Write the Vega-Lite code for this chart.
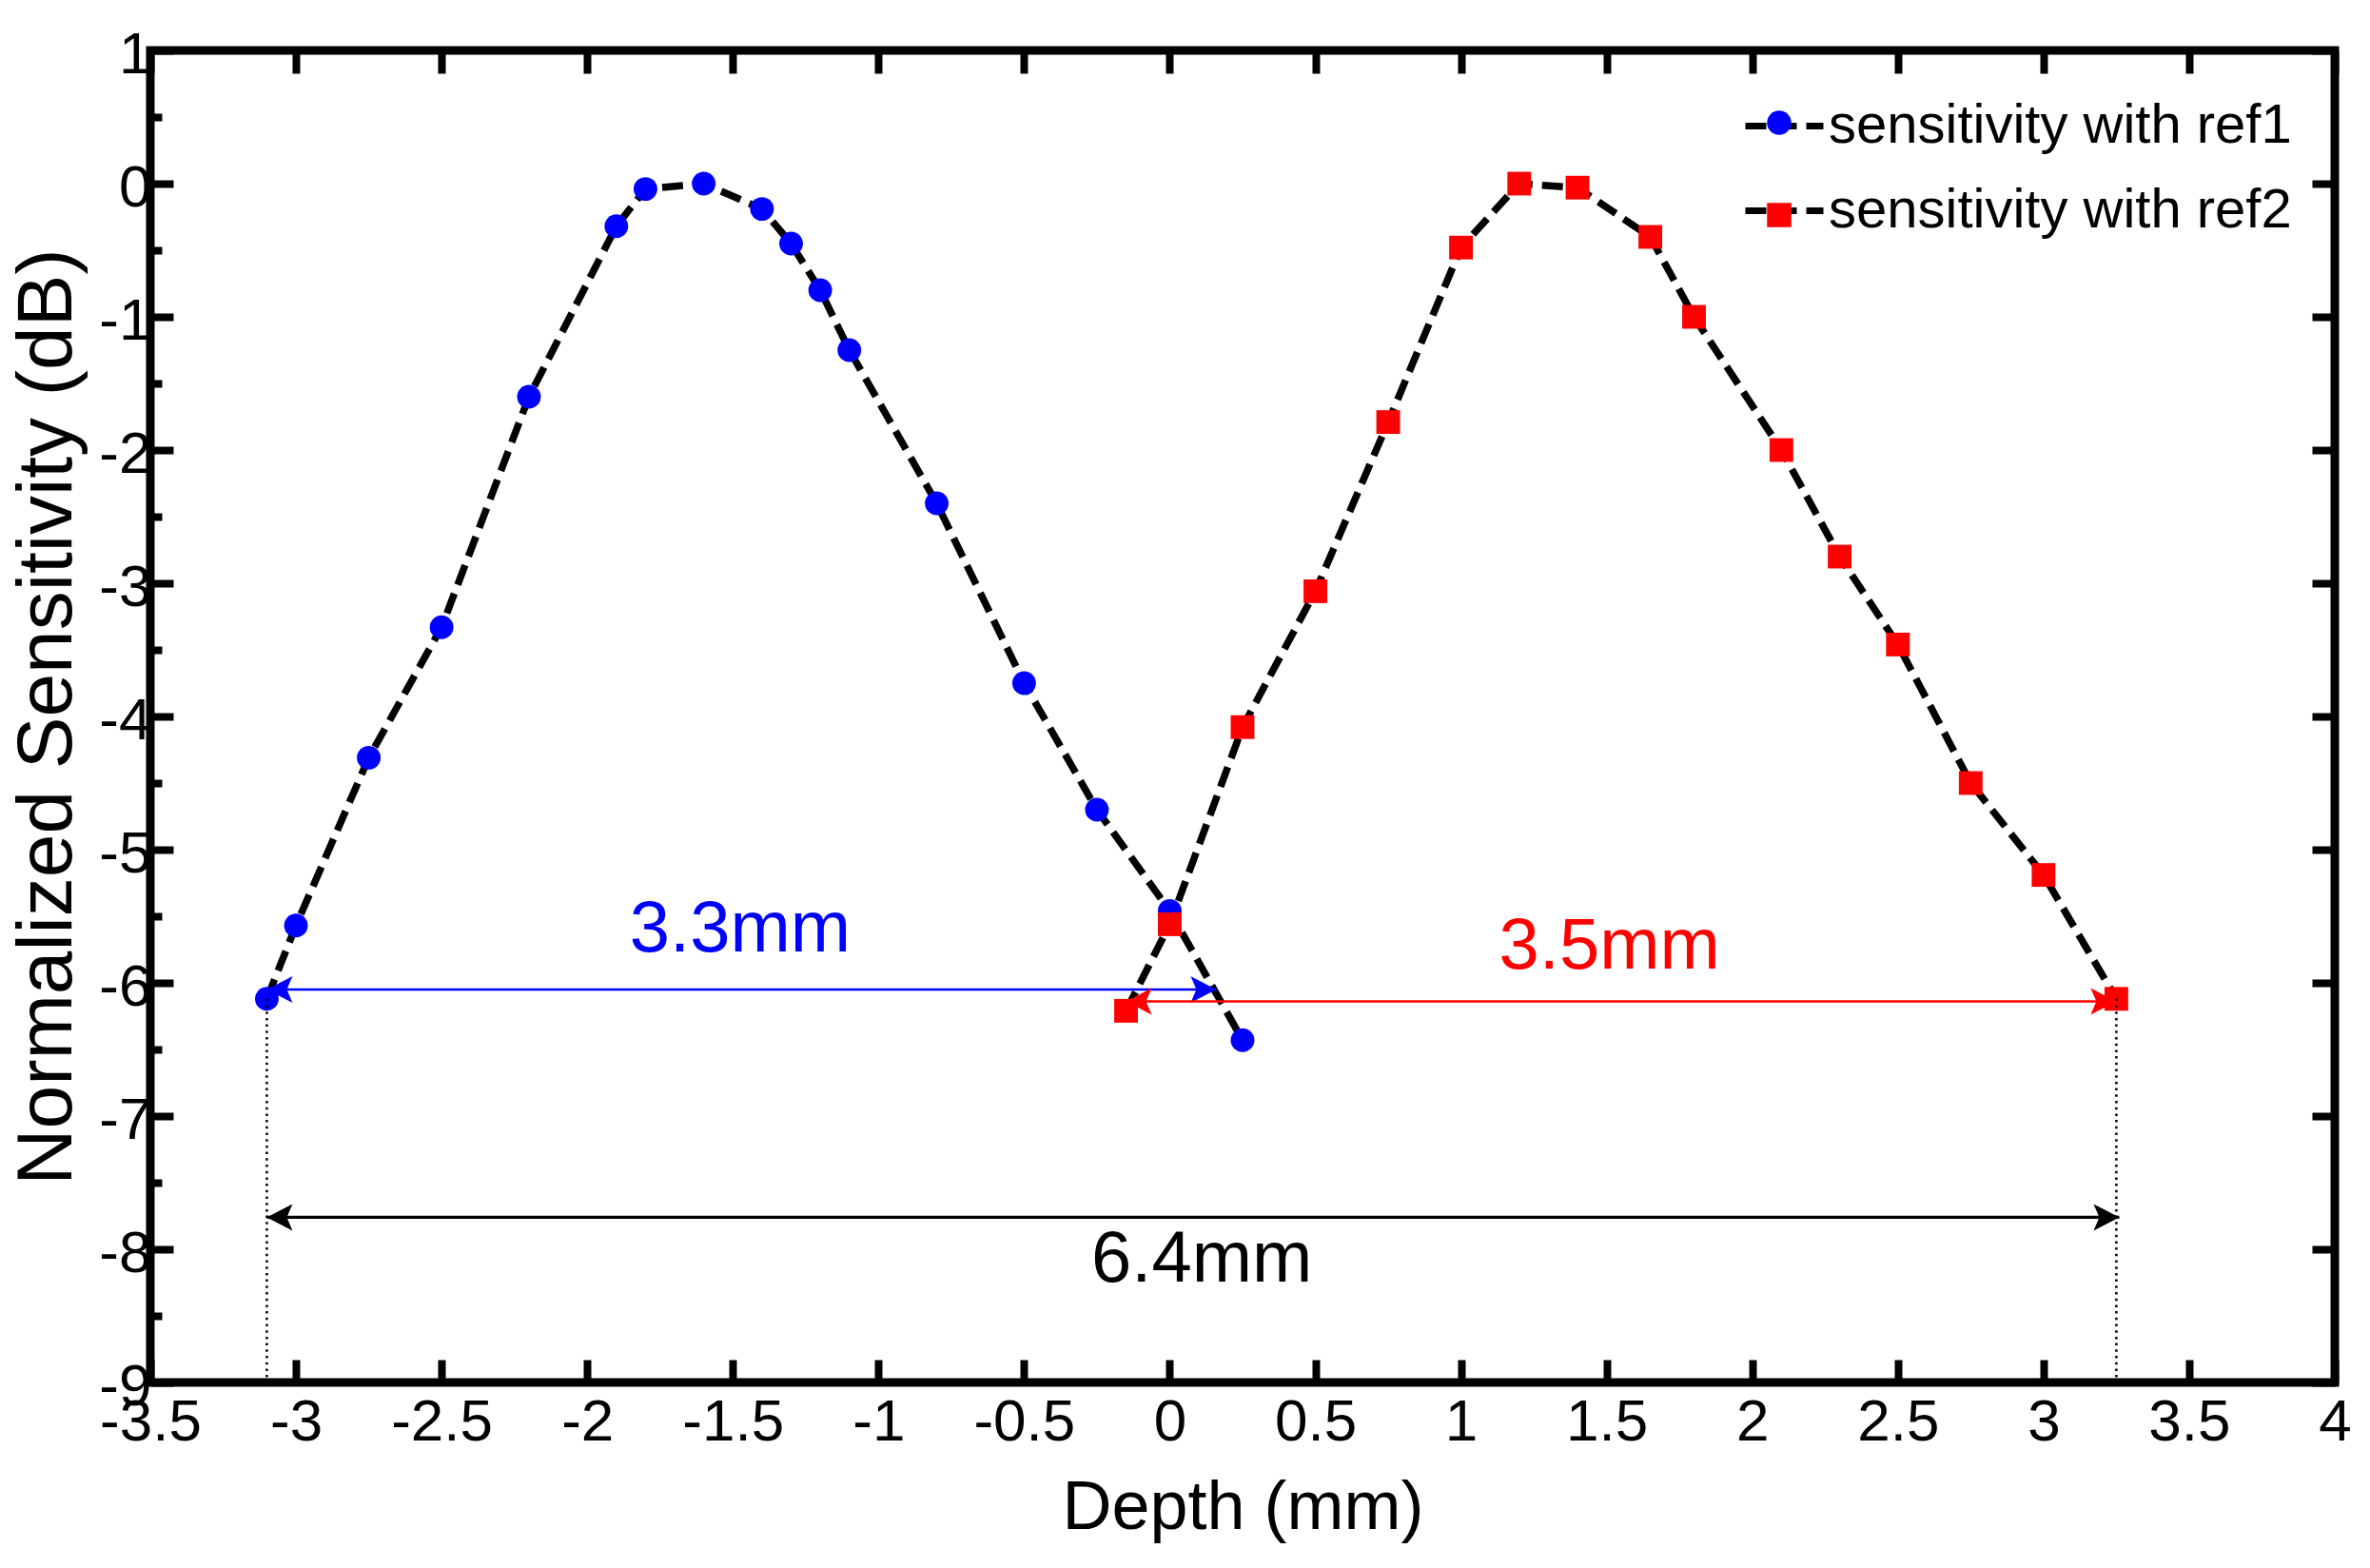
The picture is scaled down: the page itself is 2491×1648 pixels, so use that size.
{
  "$schema": "https://vega.github.io/schema/vega-lite/v6.json",
  "width": 2296,
  "height": 1400,
  "autosize": "none",
  "padding": {"left": 158, "top": 53, "right": 37, "bottom": 195},
  "background": "white",
  "config": {
    "font": "Liberation Sans",
    "view": {"stroke": "black", "strokeWidth": 9},
    "axis": {"grid": false, "tickColor": "black", "tickWidth": 8, "domain": false, "labelColor": "black", "titleColor": "black"}
  },
  "datasets": {
    "sens": [
      {"series": "sensitivity with ref1", "depth": -3.1, "sensitivity": -6.12},
      {"series": "sensitivity with ref1", "depth": -3.0, "sensitivity": -5.57},
      {"series": "sensitivity with ref1", "depth": -2.75, "sensitivity": -4.31},
      {"series": "sensitivity with ref1", "depth": -2.5, "sensitivity": -3.33},
      {"series": "sensitivity with ref1", "depth": -2.2, "sensitivity": -1.6},
      {"series": "sensitivity with ref1", "depth": -1.9, "sensitivity": -0.32},
      {"series": "sensitivity with ref1", "depth": -1.8, "sensitivity": -0.04},
      {"series": "sensitivity with ref1", "depth": -1.6, "sensitivity": 0},
      {"series": "sensitivity with ref1", "depth": -1.4, "sensitivity": -0.19},
      {"series": "sensitivity with ref1", "depth": -1.3, "sensitivity": -0.45},
      {"series": "sensitivity with ref1", "depth": -1.2, "sensitivity": -0.8},
      {"series": "sensitivity with ref1", "depth": -1.1, "sensitivity": -1.25},
      {"series": "sensitivity with ref1", "depth": -0.8, "sensitivity": -2.4},
      {"series": "sensitivity with ref1", "depth": -0.5, "sensitivity": -3.75},
      {"series": "sensitivity with ref1", "depth": -0.25, "sensitivity": -4.7},
      {"series": "sensitivity with ref1", "depth": 0, "sensitivity": -5.46},
      {"series": "sensitivity with ref1", "depth": 0.25, "sensitivity": -6.43},
      {"series": "sensitivity with ref2", "depth": -0.15, "sensitivity": -6.21},
      {"series": "sensitivity with ref2", "depth": 0, "sensitivity": -5.56},
      {"series": "sensitivity with ref2", "depth": 0.25, "sensitivity": -4.08},
      {"series": "sensitivity with ref2", "depth": 0.5, "sensitivity": -3.06},
      {"series": "sensitivity with ref2", "depth": 0.75, "sensitivity": -1.79},
      {"series": "sensitivity with ref2", "depth": 1.0, "sensitivity": -0.48},
      {"series": "sensitivity with ref2", "depth": 1.2, "sensitivity": 0},
      {"series": "sensitivity with ref2", "depth": 1.4, "sensitivity": -0.03},
      {"series": "sensitivity with ref2", "depth": 1.65, "sensitivity": -0.4},
      {"series": "sensitivity with ref2", "depth": 1.8, "sensitivity": -1.0},
      {"series": "sensitivity with ref2", "depth": 2.1, "sensitivity": -2.0},
      {"series": "sensitivity with ref2", "depth": 2.3, "sensitivity": -2.8},
      {"series": "sensitivity with ref2", "depth": 2.5, "sensitivity": -3.46},
      {"series": "sensitivity with ref2", "depth": 2.75, "sensitivity": -4.5},
      {"series": "sensitivity with ref2", "depth": 3.0, "sensitivity": -5.19},
      {"series": "sensitivity with ref2", "depth": 3.25, "sensitivity": -6.12}
    ]
  },
  "layer": [
    {
      "data": {"name": "sens"},
      "mark": {"type": "line", "color": "black", "strokeWidth": 7.5},
      "encoding": {
        "x": {
          "field": "depth", "type": "quantitative",
          "scale": {"domain": [-3.5, 4], "nice": false, "zero": false},
          "axis": {
            "orient": "bottom",
            "values": [-3.5, -3, -2.5, -2, -1.5, -1, -0.5, 0, 0.5, 1, 1.5, 2, 2.5, 3, 3.5, 4],
            "labelExpr": "datum.value + ''",
            "tickSize": -24,
            "labelFont": "Liberation Sans", "labelFontSize": 62,
            "labelPadding": 35, "labelFlush": false, "labelOverlap": false,
            "title": "Depth (mm)", "titleFont": "Liberation Sans", "titleFontSize": 72,
            "titleFontWeight": "normal", "titlePadding": 24
          }
        },
        "y": {
          "field": "sensitivity", "type": "quantitative",
          "scale": {"domain": [-9, 1], "nice": false, "zero": false},
          "axis": {
            "orient": "left",
            "values": [-9, -8, -7, -6, -5, -4, -3, -2, -1, 0, 1],
            "labelExpr": "datum.value + ''",
            "tickSize": -24,
            "labelFont": "Liberation Sans", "labelFontSize": 62,
            "labelPadding": 23, "labelOffset": 4, "labelFlush": false, "labelOverlap": false,
            "title": "Normalized Sensitivity (dB)", "titleFont": "Liberation Sans", "titleFontSize": 82,
            "titleFontWeight": "normal", "titlePadding": 12
          }
        },
        "strokeDash": {
          "field": "series", "type": "nominal",
          "scale": {"domain": ["sensitivity with ref1", "sensitivity with ref2"], "range": [[22, 10], [22, 10]]},
          "legend": {
            "orient": "none", "legendX": 1673, "legendY": 35, "title": null, "padding": 0,
            "symbolType": "stroke", "symbolStrokeColor": "black", "symbolStrokeWidth": 7, "symbolSize": 6724,
            "labelFont": "Liberation Sans", "labelFontSize": 58, "labelColor": "black", "labelLimit": 0,
            "labelOffset": 2, "rowPadding": 15
          }
        }
      }
    },
    {
      "data": {"name": "sens"},
      "mark": {"type": "point", "filled": true, "opacity": 1, "size": 620, "strokeWidth": 0},
      "encoding": {
        "x": {
          "field": "depth", "type": "quantitative",
          "axis": {"orient": "top", "values": [-3.5, -3, -2.5, -2, -1.5, -1, -0.5, 0, 0.5, 1, 1.5, 2, 2.5, 3, 3.5, 4], "tickSize": -24, "labels": false, "title": null}
        },
        "y": {
          "field": "sensitivity", "type": "quantitative",
          "axis": {"orient": "right", "values": [-9, -8, -7, -6, -5, -4, -3, -2, -1, 0, 1], "tickSize": -24, "labels": false, "title": null}
        },
        "color": {
          "field": "series", "type": "nominal",
          "scale": {"range": ["#0000ff", "#ff0000"]},
          "legend": {
            "orient": "none", "legendX": 1684, "legendY": 48, "title": null, "padding": 0,
            "symbolSize": 650, "labelFontSize": 56, "labelOpacity": 0, "labelExpr": "''", "labelLimit": 0, "rowPadding": 41
          }
        },
        "shape": {
          "field": "series", "type": "nominal",
          "scale": {"range": ["circle", "square"]},
          "legend": {
            "orient": "none", "legendX": 1684, "legendY": 48, "title": null, "padding": 0,
            "symbolSize": 650, "labelFontSize": 56, "labelOpacity": 0, "labelExpr": "''", "labelLimit": 0, "rowPadding": 41
          }
        }
      }
    },
    {
      "data": {"values": [{"depth": -3.1, "top": -6.12}, {"depth": 3.25, "top": -6.12}]},
      "mark": {"type": "rule", "color": "black", "strokeWidth": 2.5, "strokeDash": [2.5, 4.2]},
      "encoding": {
        "x": {"field": "depth", "type": "quantitative", "axis": null},
        "y": {
          "field": "top", "type": "quantitative",
          "axis": {"orient": "left", "values": [-8.5, -7.5, -6.5, -5.5, -4.5, -3.5, -2.5, -1.5, -0.5, 0.5], "tickSize": -12, "labels": false, "title": null}
        },
        "y2": {"datum": -9}
      }
    },
    {
      "data": {"values": [{"x_start": -3.1, "x_end": 3.26, "y": -7.76, "label": "6.4mm", "label_x": 0.11, "label_y": -8.08}]},
      "encoding": {
        "y": {
          "field": "y", "type": "quantitative",
          "axis": {"orient": "right", "values": [-8.5, -7.5, -6.5, -5.5, -4.5, -3.5, -2.5, -1.5, -0.5, 0.5], "tickSize": -12, "labels": false, "title": null}
        },
        "color": {"value": "black"}
      },
      "layer": [
        {"mark": {"type": "rule", "strokeWidth": 3.3}, "encoding": {"x": {"field": "x_start", "type": "quantitative", "axis": null}, "x2": {"field": "x_end"}}},
        {"mark": {"type": "point", "filled": true, "opacity": 1, "size": 400, "strokeWidth": 0, "shape": "M0,0L2.7,-1.4L2.1,0L2.7,1.4Z"}, "encoding": {"x": {"field": "x_start", "type": "quantitative", "axis": null}}},
        {"mark": {"type": "point", "filled": true, "opacity": 1, "size": 400, "strokeWidth": 0, "shape": "M0,0L-2.7,-1.4L-2.1,0L-2.7,1.4Z"}, "encoding": {"x": {"field": "x_end", "type": "quantitative", "axis": null}}},
        {"mark": {"type": "text", "font": "Liberation Sans", "fontSize": 76, "align": "center", "baseline": "middle"}, "encoding": {"x": {"field": "label_x", "type": "quantitative", "axis": null}, "y": {"field": "label_y", "type": "quantitative", "axis": null}, "text": {"field": "label"}}}
      ]
    },
    {
      "data": {"values": [{"x_start": -3.1, "x_end": 0.16, "y": -6.05, "label": "3.3mm", "label_x": -1.475, "label_y": -5.6}]},
      "encoding": {
        "y": {"field": "y", "type": "quantitative", "axis": null},
        "color": {"value": "#0000ff"}
      },
      "layer": [
        {"mark": {"type": "rule", "strokeWidth": 2.5}, "encoding": {"x": {"field": "x_start", "type": "quantitative", "axis": null}, "x2": {"field": "x_end"}}},
        {"mark": {"type": "point", "filled": true, "opacity": 1, "size": 400, "strokeWidth": 0, "shape": "M0,0L2.7,-1.4L2.1,0L2.7,1.4Z"}, "encoding": {"x": {"field": "x_start", "type": "quantitative", "axis": null}}},
        {"mark": {"type": "point", "filled": true, "opacity": 1, "size": 400, "strokeWidth": 0, "shape": "M0,0L-2.7,-1.4L-2.1,0L-2.7,1.4Z"}, "encoding": {"x": {"field": "x_end", "type": "quantitative", "axis": null}}},
        {"mark": {"type": "text", "font": "Liberation Sans", "fontSize": 76, "align": "center", "baseline": "middle"}, "encoding": {"x": {"field": "label_x", "type": "quantitative", "axis": null}, "y": {"field": "label_y", "type": "quantitative", "axis": null}, "text": {"field": "label"}}}
      ]
    },
    {
      "data": {"values": [{"x_start": -0.15, "x_end": 3.25, "y": -6.14, "label": "3.5mm", "label_x": 1.51, "label_y": -5.73}]},
      "encoding": {
        "y": {"field": "y", "type": "quantitative", "axis": null},
        "color": {"value": "#ff0000"}
      },
      "layer": [
        {"mark": {"type": "rule", "strokeWidth": 2.5}, "encoding": {"x": {"field": "x_start", "type": "quantitative", "axis": null}, "x2": {"field": "x_end"}}},
        {"mark": {"type": "point", "filled": true, "opacity": 1, "size": 400, "strokeWidth": 0, "shape": "M0,0L2.7,-1.4L2.1,0L2.7,1.4Z"}, "encoding": {"x": {"field": "x_start", "type": "quantitative", "axis": null}}},
        {"mark": {"type": "point", "filled": true, "opacity": 1, "size": 400, "strokeWidth": 0, "shape": "M0,0L-2.7,-1.4L-2.1,0L-2.7,1.4Z"}, "encoding": {"x": {"field": "x_end", "type": "quantitative", "axis": null}}},
        {"mark": {"type": "text", "font": "Liberation Sans", "fontSize": 76, "align": "center", "baseline": "middle"}, "encoding": {"x": {"field": "label_x", "type": "quantitative", "axis": null}, "y": {"field": "label_y", "type": "quantitative", "axis": null}, "text": {"field": "label"}}}
      ]
    }
  ]
}
